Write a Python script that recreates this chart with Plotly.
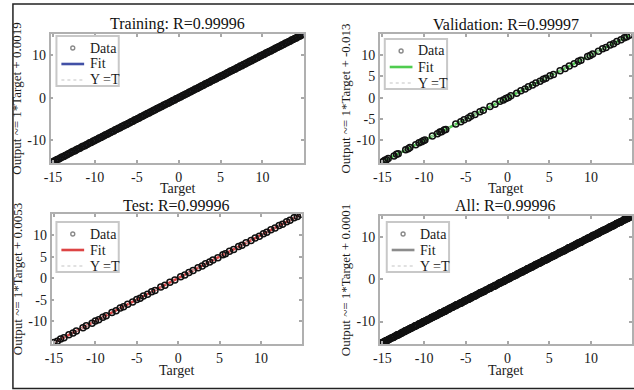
import plotly.graph_objects as go

# ---------------- data ----------------
train_target = [
    -15.30, -15.08, -14.91, -14.70, -14.52, -14.31, -14.12, -13.94, -13.71, -13.55,
    -13.33, -13.16, -12.94, -12.77, -12.58, -12.36, -12.19, -11.98, -11.80, -11.59,
    -11.42, -11.20, -11.03, -10.84, -10.62, -10.45, -10.24, -10.07, -9.88, -9.66,
    -9.49, -9.28, -9.11, -8.90, -8.73, -8.52, -8.35, -8.13, -7.96, -7.75,
    -7.57, -7.38, -7.19, -6.99, -6.80, -6.61, -6.43, -6.22, -6.05, -5.84,
    -5.66, -5.47, -5.27, -5.09, -4.88, -4.71, -4.50, -4.32, -4.13, -3.93,
    -3.75, -3.54, -3.37, -3.16, -2.98, -2.79, -2.59, -2.41, -2.20, -2.03,
    -1.82, -1.64, -1.45, -1.25, -1.07, -0.86, -0.69, -0.48, -0.30, -0.11,
    0.09, 0.27, 0.48, 0.65, 0.86, 1.03, 1.24, 1.42, 1.61, 1.81,
    1.99, 2.20, 2.37, 2.58, 2.76, 2.95, 3.15, 3.33, 3.54, 3.71,
    3.92, 4.09, 4.30, 4.48, 4.67, 4.87, 5.05, 5.26, 5.43, 5.64,
    5.81, 6.02, 6.20, 6.39, 6.59, 6.77, 6.98, 7.15, 7.36, 7.54,
    7.73, 7.93, 8.11, 8.32, 8.49, 8.70, 8.87, 9.08, 9.26, 9.45,
    9.65, 9.83, 10.04, 10.21, 10.42, 10.60, 10.79, 10.99, 11.17, 11.38,
    11.55, 11.76, 11.93, 12.14, 12.32, 12.51, 12.71, 12.89, 13.10, 13.27,
    13.48, 13.65, 13.86, 14.04, 14.23, 14.43, 14.61, 14.82, 14.90,
]
train_output = [
    -15.27, -15.12, -14.88, -14.74, -14.49, -14.35, -14.10, -13.90, -13.76, -13.52,
    -13.36, -13.13, -12.98, -12.74, -12.55, -12.41, -12.16, -11.95, -11.84, -11.57,
    -11.38, -11.24, -11.01, -10.87, -10.58, -10.49, -10.21, -10.10, -9.85, -9.70,
    -9.46, -9.31, -9.08, -8.94, -8.70, -8.55, -8.31, -8.17, -7.93, -7.78,
    -7.54, -7.42, -7.16, -7.03, -6.77, -6.64, -6.40, -6.26, -6.02, -5.87,
    -5.63, -5.51, -5.24, -5.12, -4.85, -4.74, -4.47, -4.36, -4.10, -3.96,
    -3.72, -3.58, -3.34, -3.19, -2.95, -2.83, -2.56, -2.44, -2.17, -2.07,
    -1.79, -1.67, -1.42, -1.29, -1.04, -0.89, -0.66, -0.52, -0.27, -0.14,
    0.12, 0.24, 0.51, 0.61, 0.89, 1.00, 1.27, 1.38, 1.64, 1.78,
    2.03, 2.17, 2.40, 2.55, 2.80, 2.92, 3.18, 3.30, 3.57, 3.68,
    3.96, 4.06, 4.33, 4.45, 4.71, 4.84, 5.08, 5.22, 5.46, 5.61,
    5.85, 5.99, 6.23, 6.36, 6.62, 6.74, 7.01, 7.12, 7.40, 7.51,
    7.76, 7.90, 8.15, 8.29, 8.52, 8.67, 8.91, 9.05, 9.29, 9.42,
    9.68, 9.80, 10.07, 10.18, 10.46, 10.57, 10.82, 10.96, 11.20, 11.35,
    11.59, 11.73, 11.96, 12.11, 12.35, 12.48, 12.74, 12.86, 13.13, 13.24,
    13.51, 13.62, 13.89, 14.01, 14.26, 14.40, 14.64, 14.79, 14.92,
]

val_target = [
    -14.9, -14.7, -14.5, -14.3, -13.6, -13.3, -13.1, -12.2, -11.9, -11.7,
    -11.0, -10.6, -10.3, -10.1, -9.9, -9.0, -8.4, -8.1, -7.9, -7.6,
    -7.4, -6.2, -5.6, -5.2, -4.7, -4.4, -3.9, -3.3, -2.9, -2.1,
    -1.5, -0.9, -0.5, -0.2, 0.1, 0.4, 1.1, 1.6, 2.1, 2.5,
    3.0, 3.4, 3.9, 4.3, 4.6, 5.1, 5.5, 6.3, 6.9, 7.4,
    8.0, 8.5, 8.8, 9.6, 9.9, 10.2, 10.9, 11.4, 11.8, 12.3,
    12.7, 13.1, 13.6, 14.0, 14.3, 14.6,
]
val_output = [
    -14.94, -14.66, -14.55, -14.27, -13.64, -13.26, -13.15, -12.17, -11.95, -11.66,
    -11.04, -10.57, -10.35, -10.06, -9.94, -8.96, -8.45, -8.06, -7.95, -7.57,
    -7.44, -6.17, -5.65, -5.17, -4.74, -4.37, -3.95, -3.27, -2.94, -2.07,
    -1.55, -0.86, -0.55, -0.17, 0.06, 0.44, 1.06, 1.64, 2.06, 2.54,
    2.95, 3.44, 3.86, 4.34, 4.56, 5.14, 5.46, 6.34, 6.86, 7.44,
    7.96, 8.54, 8.75, 9.64, 9.86, 10.24, 10.86, 11.44, 11.75, 12.34,
    12.66, 13.14, 13.56, 14.04, 14.26, 14.63,
]

test_target = [
    -15.0, -14.6, -14.2, -13.8, -13.2, -12.7, -12.3, -11.5, -11.1, -10.4,
    -10.0, -9.6, -9.1, -8.7, -8.0, -7.5, -7.0, -6.6, -6.1, -5.5,
    -5.0, -4.6, -4.2, -3.7, -3.2, -2.8, -2.1, -1.6, -1.0, -0.4,
    0.3, 0.8, 1.3, 1.8, 2.4, 2.9, 3.3, 3.8, 4.2, 4.8,
    5.4, 5.7, 6.2, 6.7, 7.3, 7.7, 8.2, 8.8, 9.3, 9.8,
    10.3, 10.7, 11.2, 11.7, 12.2, 12.6, 13.1, 13.5, 14.0, 14.4,
    14.8,
]
test_output = [
    -14.96, -14.65, -14.16, -13.84, -13.16, -12.74, -12.26, -11.55, -11.06, -10.45,
    -9.96, -9.64, -9.06, -8.74, -7.96, -7.55, -6.96, -6.64, -6.06, -5.54,
    -4.96, -4.65, -4.16, -3.74, -3.16, -2.84, -2.06, -1.64, -0.96, -0.45,
    0.34, 0.76, 1.35, 1.76, 2.44, 2.86, 3.35, 3.76, 4.25, 4.76,
    5.44, 5.66, 6.25, 6.66, 7.34, 7.66, 8.25, 8.76, 9.34, 9.76,
    10.35, 10.66, 11.24, 11.66, 12.25, 12.56, 13.14, 13.46, 14.05, 14.36,
    14.84,
]

all_target = train_target + val_target + test_target
all_output = train_output + val_output + test_output

panel_names = ["Training", "Validation", "Test", "All"]
r_values = ["0.99996", "0.99997", "0.99996", "0.99996"]
fit_slopes = [1, 1, 1, 1]
fit_intercepts = ["0.0019", "-0.013", "0.0053", "0.0001"]
fit_colors = ["#4250a6", "#4fcc4f", "#dd4444", "#8c8c8c"]
legend_labels = ["Data", "Fit", "Y =T"]
targets = [train_target, val_target, test_target, all_target]
outputs = [train_output, val_output, test_output, all_output]

x_ticks = [-15, -10, -5, 0, 5, 10]
y_ticks = [[-10, 0, 10], [-10, -5, 0, 5, 10], [-10, -5, 0, 5, 10], [-10, 0, 10]]

# ---------------- layout geometry (pixels in a 634x390 canvas) ----------------
W, H = 634, 390
boxes = [  # left, right, top, bottom
    (44, 300, 34, 163),
    (377, 632, 34, 163),
    (45, 298, 214, 344),
    (377, 632, 216, 344),
]
xlabel_y = [188, 188, 370, 370]
title_gap = [10, 10, 9, 11]
legend_pos = [(50, 36), (382, 39), (50, 222), (384, 222)]
LEG_W, LEG_H = 63, 50
LEG_ROWS = [12, 28, 44]

SERIF = "Liberation Serif, Times New Roman, serif"


def px(x):
    return x / W


def py(y):
    return 1 - y / H


fig = go.Figure()
layout = dict(
    width=W, height=H,
    margin=dict(l=0, r=0, t=0, b=0),
    paper_bgcolor="white", plot_bgcolor="white",
    font=dict(family=SERIF, color="#1a1a1a"),
    showlegend=False,
    annotations=[], shapes=[],
)

lo = min(min(all_target), min(all_output))
hi = max(max(all_target), max(all_output))

for i in range(4):
    sfx = "" if i == 0 else str(i + 1)
    xa, ya = "x" + sfx, "y" + sfx
    t, o = targets[i], outputs[i]
    slope = fit_slopes[i]
    icpt = float(fit_intercepts[i])
    tmin, tmax = min(t), max(t)

    # fit and identity lines first, data circles drawn over them
    fig.add_trace(go.Scatter(
        x=[tmin, tmax], y=[slope * tmin + icpt, slope * tmax + icpt],
        mode="lines", name=legend_labels[1],
        line=dict(color=fit_colors[i], width=2.6),
        xaxis=xa, yaxis=ya,
    ))
    fig.add_trace(go.Scatter(
        x=[tmin, tmax], y=[tmin, tmax], mode="lines", name=legend_labels[2],
        line=dict(color="#c4c4c4", width=1.2, dash="dot"),
        xaxis=xa, yaxis=ya,
    ))
    fig.add_trace(go.Scatter(
        x=t, y=o, mode="markers", name=legend_labels[0],
        marker=dict(symbol="circle-open", size=6, color="#111111",
                    line=dict(width=1.5, color="#111111")),
        xaxis=xa, yaxis=ya,
    ))

    l, r, tp, b = boxes[i]
    axis_common = dict(
        showgrid=False, zeroline=False,
        showline=True, mirror="ticks", linecolor="#b0b0b0", linewidth=1.6,
        ticks="inside", ticklen=3, tickwidth=1.5, tickcolor="#a8a8a8",
        tickfont=dict(family=SERIF, size=14, color="#1a1a1a"),
        range=[lo, hi],
    )
    layout["xaxis" + sfx] = dict(
        axis_common,
        domain=[px(l), px(r)], anchor=ya,
        tickvals=x_ticks, ticktext=[str(v) for v in x_ticks],
    )
    layout["yaxis" + sfx] = dict(
        axis_common,
        domain=[py(b), py(tp)], anchor=xa,
        tickvals=y_ticks[i], ticktext=[str(v) for v in y_ticks[i]],
        title=dict(text=f"Output ~= {slope}*Target + {fit_intercepts[i]}",
                   font=dict(family=SERIF, size=13), standoff=3),
    )

    # panel title
    layout["annotations"].append(dict(
        text=f"{panel_names[i]}: R={r_values[i]}",
        x=px((l + r) / 2), y=py(tp - title_gap[i]),
        xref="paper", yref="paper", xanchor="center", yanchor="middle",
        showarrow=False, font=dict(family=SERIF, size=16, color="#111111"),
    ))
    # x-axis label, set tight under the tick labels
    layout["annotations"].append(dict(
        text="Target",
        x=px((l + r) / 2), y=py(xlabel_y[i]),
        xref="paper", yref="paper", xanchor="center", yanchor="middle",
        showarrow=False, font=dict(family=SERIF, size=14, color="#1a1a1a"),
    ))

    # compact MATLAB-style legend box: Data / Fit / Y =T
    lx, ly = legend_pos[i]
    layout["shapes"].append(dict(
        type="rect", xref="paper", yref="paper",
        x0=px(lx), x1=px(lx + LEG_W), y0=py(ly + LEG_H), y1=py(ly),
        fillcolor="white", line=dict(color="#c8c8c8", width=2), layer="above",
    ))
    r0, r1, r2 = (ly + d for d in LEG_ROWS)
    layout["shapes"].append(dict(
        type="circle", xref="paper", yref="paper",
        x0=px(lx + 14.5), x1=px(lx + 18.5), y0=py(r0 + 2), y1=py(r0 - 2),
        line=dict(color="#8a8a8a", width=1.4), layer="above",
    ))
    layout["shapes"].append(dict(
        type="line", xref="paper", yref="paper",
        x0=px(lx + 5), x1=px(lx + 28), y0=py(r1), y1=py(r1),
        line=dict(color=fit_colors[i], width=2.6), layer="above",
    ))
    layout["shapes"].append(dict(
        type="line", xref="paper", yref="paper",
        x0=px(lx + 5), x1=px(lx + 28), y0=py(r2), y1=py(r2),
        line=dict(color="#c4c4c4", width=1.2, dash="dot"), layer="above",
    ))
    for lab, ry in zip(legend_labels, (r0, r1, r2)):
        layout["annotations"].append(dict(
            text=lab, x=px(lx + 32), y=py(ry),
            xref="paper", yref="paper", xanchor="left", yanchor="middle",
            showarrow=False, font=dict(family=SERIF, size=14, color="#1a1a1a"),
        ))

# outer frame around the whole figure
layout["shapes"].append(dict(
    type="rect", xref="paper", yref="paper",
    x0=px(6), x1=1.02, y0=py(388.5), y1=py(4),
    line=dict(color="#222222", width=1.5),
))

fig.update_layout(**layout)
fig.write_html("out.html")
